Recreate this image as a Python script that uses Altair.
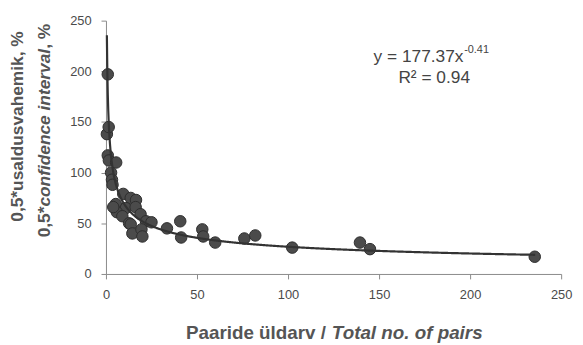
import altair as alt
import pandas as pd

# ---- data ----
pairs = [0.5, 1.0, 1.5, 1.0, 1.6, 5.6, 2.8, 3.3, 3.6, 9.5, 13.6, 16.5, 5.4, 10.9,
         16.3, 6.0, 9.0, 19.0, 4.0, 12.7, 13.6, 22.0, 25.0, 14.5, 19.5, 20.0,
         33.5, 40.8, 41.3, 52.9, 53.4, 60.0, 76.0, 82.0, 102.3, 139.5, 145.0, 235.5]
half_ci = [138, 197, 145, 117, 112, 110, 100, 93, 88, 79, 75, 73, 69, 65,
           66, 61, 57, 59, 66, 50, 49, 52, 51, 40, 44, 37,
           45, 52, 36, 44, 37, 31, 35, 38, 26, 31, 24.5, 17]

# power trend line as printed on the chart: y = 177.37 x^-0.41
fit_a = 177.37
fit_b = -0.41
fit_range = [0.5, 236]

x_ticks = [0, 50, 100, 150, 200, 250]
y_ticks = [0, 50, 100, 150, 200, 250]

y_title_1 = "0,5*usaldusvahemik, %"
y_title_2 = ["0,5*", "confidence interval", ", %"]
x_title = ["Paaride üldarv /", "Total no. of pairs"]
eq_main = "y = 177.37x"
eq_exp = "-0.41"
r2_text = "R² = 0.94"

df = pd.DataFrame({"pairs": pairs, "ci": half_ci})

FONT = "Liberation Sans"
W, H = 460, 256
TXT = "#555555"

xs = alt.Scale(domain=[0, 250], nice=False)
ys = alt.Scale(domain=[0, 250], nice=False)

x_axis = alt.Axis(values=x_ticks, title=None, grid=False, domainColor="#8a8a8a",
                  tickColor="#8a8a8a", tickSize=5, labelFont=FONT, labelFontSize=13,
                  labelColor="#4a4a4a", labelPadding=10, labelFlush=False,
                  labelOverlap=False)
y_axis = alt.Axis(values=y_ticks, title=None, grid=False, domainColor="#8a8a8a",
                  tickColor="#8a8a8a", tickSize=5, labelFont=FONT, labelFontSize=13,
                  labelColor="#4a4a4a", labelPadding=10, labelFlush=False,
                  labelOverlap=False)

points = alt.Chart(df).mark_circle(size=135, color="#4b4b4b", stroke="#2e2e2e",
                                   strokeWidth=1, opacity=1).encode(
    x=alt.X("pairs:Q", scale=xs, axis=x_axis),
    y=alt.Y("ci:Q", scale=ys, axis=y_axis),
)

trend = alt.Chart(alt.sequence(fit_range[0], fit_range[1], 0.25, as_="pairs")).transform_calculate(
    ci=f"{fit_a} * pow(datum.pairs, {fit_b})"
).mark_line(color="#333333", strokeWidth=2.2).encode(
    x=alt.X("pairs:Q", scale=xs),
    y=alt.Y("ci:Q", scale=ys),
)


def label(text, x, y, size, angle=0, align="center", style="normal",
          weight="bold", baseline="alphabetic", color=TXT):
    return alt.Chart(pd.DataFrame({"t": [text]})).mark_text(
        align=align, baseline=baseline, angle=angle, font=FONT, fontSize=size,
        fontStyle=style, fontWeight=weight, color=color
    ).encode(text="t:N", x=alt.value(x), y=alt.value(y))


YF = 17.5
texts = [
    # y title, line 1
    label(y_title_1, -88.7, 107, YF, angle=270, align="center", baseline="middle"),
    # y title, line 2 (mixed styles)
    label(y_title_2[0], -61.7, 219, YF, angle=270, align="left", baseline="middle"),
    label(y_title_2[1], -61.7, 187.9, YF, angle=270, align="left", baseline="middle",
          style="italic"),
    label(y_title_2[2], -61.7, 28.4, YF, angle=270, align="left", baseline="middle"),
    # x title (mixed styles)
    label(x_title[0], 222.3, 322, 19, align="right"),
    label(x_title[1], 228.3, 322, 19, align="left", style="italic"),
    # equation
    label(eq_main, 361.3, 42, 17.5, align="right", weight="normal", color="#444444"),
    label(eq_exp, 362.0, 32.5, 11, align="left", weight="normal", color="#444444"),
    label(r2_text, 331.7, 62.7, 17.5, align="center", weight="normal", color="#444444"),
]

chart = alt.layer(points, trend, *texts).properties(
    width=W, height=H,
    autosize=alt.AutoSizeParams(type="none"),
    padding={"left": 99, "top": 11, "right": 14, "bottom": 69},
).configure_view(stroke=None)

chart.save("out.html", embed_options={"renderer": "svg", "actions": False})
